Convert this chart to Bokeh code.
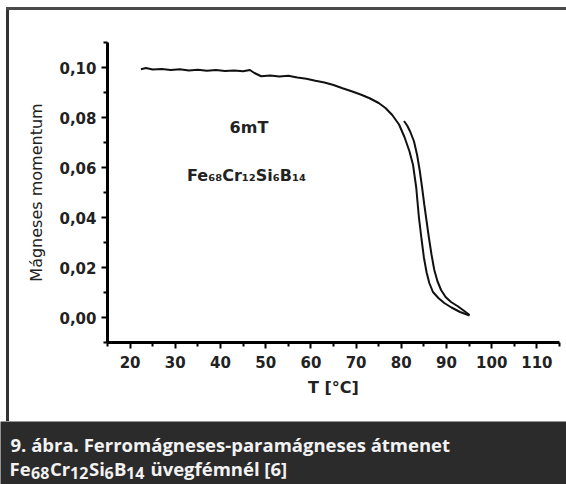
from bokeh.plotting import figure
from bokeh.models import (Range1d, FixedTicker, CustomJSTickFormatter, Label,
                          ColumnDataSource, Div)
from bokeh.layouts import column, row
from bokeh.embed import file_html
from bokeh.resources import INLINE

# ---- data ----
heat_T = [22.4, 23.5, 25.0, 27.0, 29.0, 31.0, 33.0, 35.0, 37.0, 39.0, 41.0, 43.0,
          45.0, 46.5, 47.5, 49.0, 51.0, 53.0, 55.0, 57.0, 59.0, 61.0, 63.0, 65.0,
          67.0, 69.0, 71.0, 73.0, 75.0, 76.5, 78.0, 79.5, 80.7, 81.8, 82.6, 83.3,
          83.9, 84.5, 85.0, 85.6, 86.2, 87.0, 88.2, 89.5, 91.1, 93.0, 95.1]
heat_M = [0.0993, 0.0998, 0.0992, 0.0994, 0.0990, 0.0993, 0.0988, 0.0991, 0.0987,
          0.0990, 0.0986, 0.0988, 0.0985, 0.0990, 0.0978, 0.0965, 0.0968, 0.0964,
          0.0967, 0.0960, 0.0955, 0.0947, 0.0940, 0.0930, 0.0917, 0.0905, 0.0892,
          0.0877, 0.0858, 0.0838, 0.0810, 0.0772, 0.0722, 0.0665, 0.0610, 0.0520,
          0.0400, 0.0310, 0.0240, 0.0180, 0.0138, 0.0102, 0.0078, 0.0058, 0.0040,
          0.0022, 0.0008]
cool_T = [80.6, 81.3, 82.0, 82.8, 83.5, 84.1, 84.6, 85.1, 85.6, 86.1, 86.7, 87.3,
          88.0, 88.8, 89.8, 91.0, 92.5, 94.0, 95.1]
cool_M = [0.0786, 0.0768, 0.0742, 0.0705, 0.0650, 0.0585, 0.0520, 0.0450, 0.0385,
          0.0320, 0.0250, 0.0190, 0.0145, 0.0110, 0.0082, 0.0062, 0.0045, 0.0025,
          0.0010]

x_major = [20, 30, 40, 50, 60, 70, 80, 90, 100, 110]
x_minor = [15, 25, 35, 45, 55, 65, 75, 85, 95, 105, 115]
y_major = [0.00, 0.02, 0.04, 0.06, 0.08, 0.10]
y_minor = [-0.01, 0.01, 0.03, 0.05, 0.07, 0.09, 0.11]

x_title = "T [°C]"
y_title = "Mágneses momentum"
field_text = "6mT"
alloy_text = "Fe₆₈Cr₁₂Si₆B₁₄"
caption_1 = "9. ábra. Ferromágneses-paramágneses átmenet"
# second caption line: (text, is_subscript)
caption_2_parts = [("Fe", False), ("68", True), ("Cr", False), ("12", True),
                   ("Si", False), ("6", True), ("B", False), ("14", True),
                   ("üvegfémnél [6]", False)]
caption_2_x = [9, 30.5, 49.5, 69.5, 88.5, 104, 113.5, 125.5, 150]

INK = "#222222"

# ---- chart ----
p = figure(width=557, height=411, output_backend="svg", toolbar_location=None,
           x_range=Range1d(15, 115), y_range=Range1d(-0.01, 0.11),
           min_border_left=98, min_border_right=7, min_border_top=32,
           min_border_bottom=79, margin=0)
p.background_fill_color = "white"
p.border_fill_color = "white"
p.outline_line_color = None
p.xgrid.visible = False
p.ygrid.visible = False

heat = ColumnDataSource(dict(T=heat_T, M=heat_M))
cool = ColumnDataSource(dict(T=cool_T, M=cool_M))
p.line("T", "M", source=heat, line_color="#111111", line_width=2)
p.line("T", "M", source=cool, line_color="#111111", line_width=2)

for ax in (p.xaxis[0], p.yaxis[0]):
    ax.axis_line_width = 3
    ax.axis_line_color = "black"
    ax.major_tick_line_width = 2
    ax.minor_tick_line_width = 2
    ax.major_tick_in = 0
    ax.major_tick_out = 6
    ax.minor_tick_in = 0
    ax.minor_tick_out = 4
    ax.major_label_text_font = "DejaVu Sans"
    ax.major_label_text_font_style = "bold"
    ax.major_label_text_font_size = "15px"
    ax.major_label_text_color = INK
    ax.axis_label_text_color = INK

p.xaxis[0].ticker = FixedTicker(ticks=x_major, minor_ticks=x_minor)
p.yaxis[0].ticker = FixedTicker(ticks=y_major, minor_ticks=y_minor)
p.yaxis[0].formatter = CustomJSTickFormatter(code="return tick.toFixed(2).replace('.', ',');")
p.xaxis[0].major_label_standoff = 7
p.yaxis[0].major_label_standoff = 5

p.xaxis[0].axis_label = x_title
p.xaxis[0].axis_label_text_font = "DejaVu Sans"
p.xaxis[0].axis_label_text_font_style = "bold"
p.xaxis[0].axis_label_text_font_size = "16px"
p.xaxis[0].axis_label_standoff = 7

p.yaxis[0].axis_label = y_title
p.yaxis[0].axis_label_text_font = "DejaVu Sans"
p.yaxis[0].axis_label_text_font_style = "normal"
p.yaxis[0].axis_label_text_font_size = "16px"
p.yaxis[0].axis_label_standoff = 10

p.add_layout(Label(x=46.3, y=0.0762, text=field_text, text_align="center",
                   text_baseline="middle", text_font="DejaVu Sans",
                   text_font_style="bold", text_font_size="16px", text_color=INK))
p.add_layout(Label(x=32.6, y=0.0569, text=alloy_text, text_align="left",
                   text_baseline="middle", text_font="DejaVu Sans",
                   text_font_style="bold", text_font_size="16px", text_color=INK))

# ---- caption band ----
cap = figure(width=566, height=63, output_backend="svg", toolbar_location=None,
             x_range=Range1d(0, 566), y_range=Range1d(0, 63), min_border=0, margin=0)
cap.axis.visible = False
cap.grid.visible = False
cap.outline_line_color = None
cap.background_fill_color = "#2b2b2b"
cap.border_fill_color = "#2b2b2b"
CAP_TXT = "#f2f2f2"
cap.add_layout(Label(x=10, y=40, text=caption_1, text_align="left",
                     text_baseline="alphabetic", text_font="Open Sans",
                     text_font_style="bold", text_font_size="18.5px", text_color=CAP_TXT))
for (txt, sub), xp in zip(caption_2_parts, caption_2_x):
    cap.add_layout(Label(x=xp, y=12 if sub else 16, text=txt, text_align="left",
                         text_baseline="alphabetic", text_font="Open Sans",
                         text_font_style="bold",
                         text_font_size="16px" if sub else "18.5px",
                         text_color=CAP_TXT))

# ---- frame lines ----
top_pad = Div(text="", width=566, height=7, margin=0)
left_pad = Div(text="", width=6, height=414, margin=0)
top_line = Div(text="", width=560, height=3, margin=0,
               styles={"background-color": "#4a4a4a"})
left_line = Div(text="", width=3, height=411, margin=0,
                styles={"background-color": "#333333"})

layout = column(top_pad,
                row(left_pad, column(top_line, row(left_line, p, spacing=0), spacing=0),
                    spacing=0),
                cap, spacing=0)

open("out.html", "w").write(file_html(layout, INLINE))
